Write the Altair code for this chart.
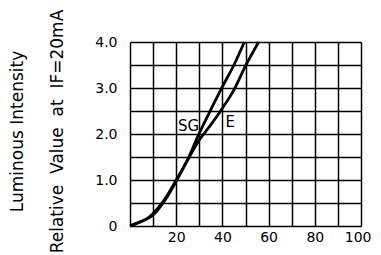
import altair as alt
import pandas as pd

# Forward current (mA) vs relative luminous intensity
sg_x = [0, 4, 8, 12, 15, 20, 25, 30, 35, 40, 45, 49.5]
sg_y = [0, 0.08, 0.18, 0.38, 0.58, 1.0, 1.45, 2.02, 2.53, 3.03, 3.5, 4.0]
e_x = [0, 4, 8, 10, 15, 20, 25, 30, 35, 40, 45, 50, 55.7]
e_y = [0, 0.08, 0.17, 0.24, 0.55, 0.97, 1.44, 1.87, 2.2, 2.56, 2.96, 3.48, 4.0]

labels = ["SG", "E"]
label_x = [25.4, 43.4]
label_y = [2.18, 2.27]

df = pd.concat([
    pd.DataFrame({"x": sg_x, "y": sg_y, "s": "SG"}),
    pd.DataFrame({"x": e_x, "y": e_y, "s": "E"}),
])
ldf = pd.DataFrame({"t": labels, "x": label_x, "y": label_y})

FONT = "DejaVu Sans"

xs = alt.Scale(domain=[0, 100], nice=False)
ys = alt.Scale(domain=[0, 4], nice=False)

xaxis = alt.Axis(
    values=list(range(0, 101, 10)),
    labelExpr="datum.value % 20 == 0 && datum.value > 0 ? datum.label : ''",
    grid=True, gridColor="black", gridWidth=1.5, gridOpacity=1,
    ticks=False, domain=False, labelFont=FONT, labelFontSize=14,
    labelColor="black", labelPadding=4, title=None,
    labelFlush=True, labelFlushOffset=10, labelOverlap=False,
)
yaxis = alt.Axis(
    values=[i * 0.5 for i in range(9)],
    labelExpr="datum.value == 0 ? '0' : (datum.value % 1 == 0 ? format(datum.value, '.1f') : '')",
    grid=True, gridColor="black", gridWidth=1.5, gridOpacity=1,
    ticks=False, domain=False, labelFont=FONT, labelFontSize=14,
    labelColor="black", labelPadding=13, labelFlush=False, labelOverlap=False,
    title=["Luminous Intensity", "Relative\u00a0 Value\u00a0 at\u00a0 IF=20mA"],
    titleFont=FONT, titleFontSize=17, titleFontWeight="normal",
    titleLineHeight=40, titleAngle=-90, titleAlign="center",
    titleBaseline="middle", titleX=-113, titleY=89, titleColor="black",
)

lines = alt.Chart(df).mark_line(color="black", strokeWidth=2.8, interpolate="monotone").encode(
    x=alt.X("x:Q", scale=xs, axis=xaxis),
    y=alt.Y("y:Q", scale=ys, axis=yaxis),
    detail="s:N",
)
txt = alt.Chart(ldf).mark_text(font=FONT, fontSize=15, color="black").encode(
    x=alt.X("x:Q", scale=xs, axis=xaxis),
    y=alt.Y("y:Q", scale=ys, axis=yaxis),
    text="t:N",
)

chart = (lines + txt).properties(
    width=231, height=184,
    autosize=alt.AutoSizeParams(type="none"),
    padding={"left": 122, "top": 34, "right": 12, "bottom": 29},
).configure_view(stroke="black", strokeWidth=1.6).configure(background="white")

chart.save("out.html", embed_options={"renderer": "svg", "actions": False})
